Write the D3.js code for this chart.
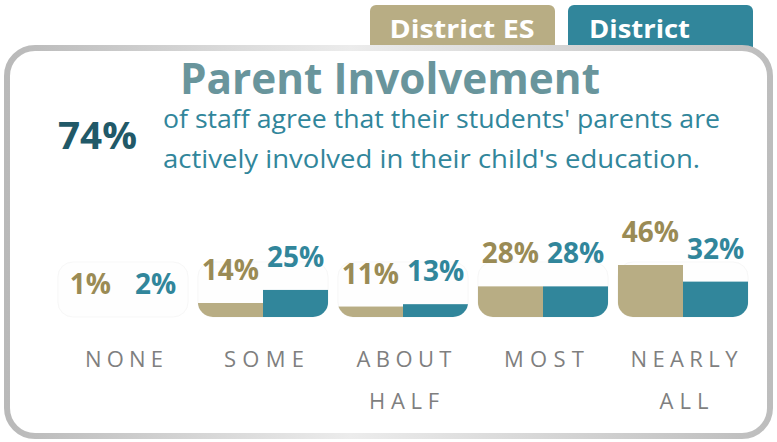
<!DOCTYPE html>
<html>
<head>
<meta charset="utf-8">
<script src="https://cdn.jsdelivr.net/npm/d3@7"></script>
<style>
  body { margin: 0; background: #fff; }
  text { font-family: "Open Sans", "Noto Sans", sans-serif; }
</style>
</head>
<body>
<svg id="container"></svg>
<script>
// data
var categories = ["NONE", "SOME", "ABOUT HALF", "MOST", "NEARLY ALL"];
var seriesNames = ["District ES", "District"];
var districtES = [1, 14, 11, 28, 46];
var district = [2, 25, 13, 28, 32];
var headlineValue = "74%";
var titleText = "Parent Involvement";
var subtitleLines = ["of staff agree that their students' parents are",
                     "actively involved in their child's education."];

var colors = { es: "#b8ad84", esText: "#9a8b55", d: "#31869b", dText: "#31869b" };

const W = 777, H = 442;
var svg = d3.select("#container").attr("width", W).attr("height", H);
var defs = svg.append("defs");

// border gradient
var grad = defs.append("linearGradient").attr("id", "border")
    .attr("x1", "0%").attr("x2", "100%").attr("y1", "0%").attr("y2", "0%");
grad.append("stop").attr("offset", "0%").attr("stop-color", "#b9b9b9");
grad.append("stop").attr("offset", "45%").attr("stop-color", "#ececec");
grad.append("stop").attr("offset", "100%").attr("stop-color", "#bdbdbd");

// tabs (behind the panel)
var tabs = [
    { name: seriesNames[0], x: 370, w: 185, fill: colors.es, anchor: "middle", tx: 462 },
    { name: seriesNames[1], x: 568, w: 185, fill: colors.d, anchor: "start", tx: 589 }
];
var tabG = svg.append("g");
tabG.selectAll("rect").data(tabs).enter().append("rect")
    .attr("x", d => d.x).attr("y", 5)
    .attr("width", d => d.w).attr("height", 60)
    .attr("rx", 6).attr("fill", d => d.fill);
tabG.selectAll("text").data(tabs).enter().append("text")
    .attr("x", d => d.tx).attr("y", 38)
    .attr("text-anchor", d => d.anchor)
    .attr("fill", "#fff").attr("font-weight", 700).attr("font-size", 25)
    .attr("textLength", d => d.anchor === "middle" ? 145 : 101)
    .attr("lengthAdjust", "spacingAndGlyphs")
    .text(d => d.name);

// panel
svg.append("rect")
    .attr("x", 7).attr("y", 48).attr("width", 763).attr("height", 388)
    .attr("rx", 28).attr("fill", "#fff")
    .attr("stroke", "url(#border)").attr("stroke-width", 6);

// title
svg.append("text")
    .attr("x", 390).attr("y", 94).attr("text-anchor", "middle")
    .attr("fill", "#69959c").attr("font-weight", 700).attr("font-size", 43)
    .attr("textLength", 420).attr("lengthAdjust", "spacingAndGlyphs")
    .text(titleText);

svg.append("text")
    .attr("x", 58).attr("y", 149)
    .attr("fill", "#215968").attr("font-weight", 700).attr("font-size", 38)
    .attr("textLength", 79).attr("lengthAdjust", "spacingAndGlyphs")
    .text(headlineValue);

svg.selectAll("text.sub").data(subtitleLines).enter().append("text")
    .attr("class", "sub")
    .attr("x", 163).attr("y", (d, i) => 128 + i * 40)
    .attr("fill", colors.d).attr("font-size", 25)
    .attr("textLength", (d, i) => i === 0 ? 557 : 537)
    .attr("lengthAdjust", "spacingAndGlyphs")
    .text(d => d);

// bars
var rows = categories.map((c, i) => ({ cat: c, es: districtES[i], d: district[i] }));

var x0 = d3.scaleBand().domain(categories).range([53, 753])
    .paddingInner(0.07).paddingOuter(0.035);
var x1 = d3.scaleBand().domain(["es", "d"]).range([0, x0.bandwidth()]);
var yScale = d3.scaleLinear().domain([2.2, 46]).range([317, 265]).clamp(true);

var groups = svg.selectAll("g.grp").data(rows).enter().append("g")
    .attr("class", "grp")
    .attr("transform", d => "translate(" + x0(d.cat) + ",0)");

groups.each(function(d, i) {
    defs.append("clipPath").attr("id", "clip" + i)
        .append("rect").attr("x", 0).attr("y", 150)
        .attr("width", x0.bandwidth()).attr("height", 167).attr("rx", 15);
});

// faint group backdrop
groups.append("rect")
    .attr("x", 0).attr("y", 262).attr("width", x0.bandwidth()).attr("height", 55)
    .attr("rx", 15).attr("fill", "#fefefe").attr("stroke", "#f7f7f7");

var body = groups.append("g").attr("clip-path", (d, i) => "url(#clip" + i + ")");
["es", "d"].forEach(k => {
    body.append("rect")
        .attr("x", x1(k)).attr("width", x1.bandwidth())
        .attr("y", d => yScale(d[k]))
        .attr("height", d => 317 - yScale(d[k]) + 20)
        .attr("fill", colors[k]);
    groups.append("text")
        .attr("x", x1(k) + x1.bandwidth() / 2)
        .attr("y", d => yScale(d[k]) - 23)
        .attr("text-anchor", "middle")
        .attr("fill", colors[k + "Text"]).attr("font-weight", 700).attr("font-size", 28)
        .text(d => d[k] + "%");
});

// category labels (word widths as measured in the reference)
var wordWidth = { NONE: 78, SOME: 80, ABOUT: 95, HALF: 70, MOST: 80, NEARLY: 107, ALL: 49 };
groups.selectAll("text.cat").data(d => d.cat.split(" ")).enter().append("text")
    .attr("class", "cat")
    .attr("x", x0.bandwidth() / 2 + 1)
    .attr("y", (d, i) => 367 + i * 42)
    .attr("text-anchor", "middle")
    .attr("fill", "#7f7f7f").attr("font-size", 22)
    .attr("textLength", d => wordWidth[d])
    .attr("lengthAdjust", "spacing")
    .text(d => d);
</script>
</body>
</html>
